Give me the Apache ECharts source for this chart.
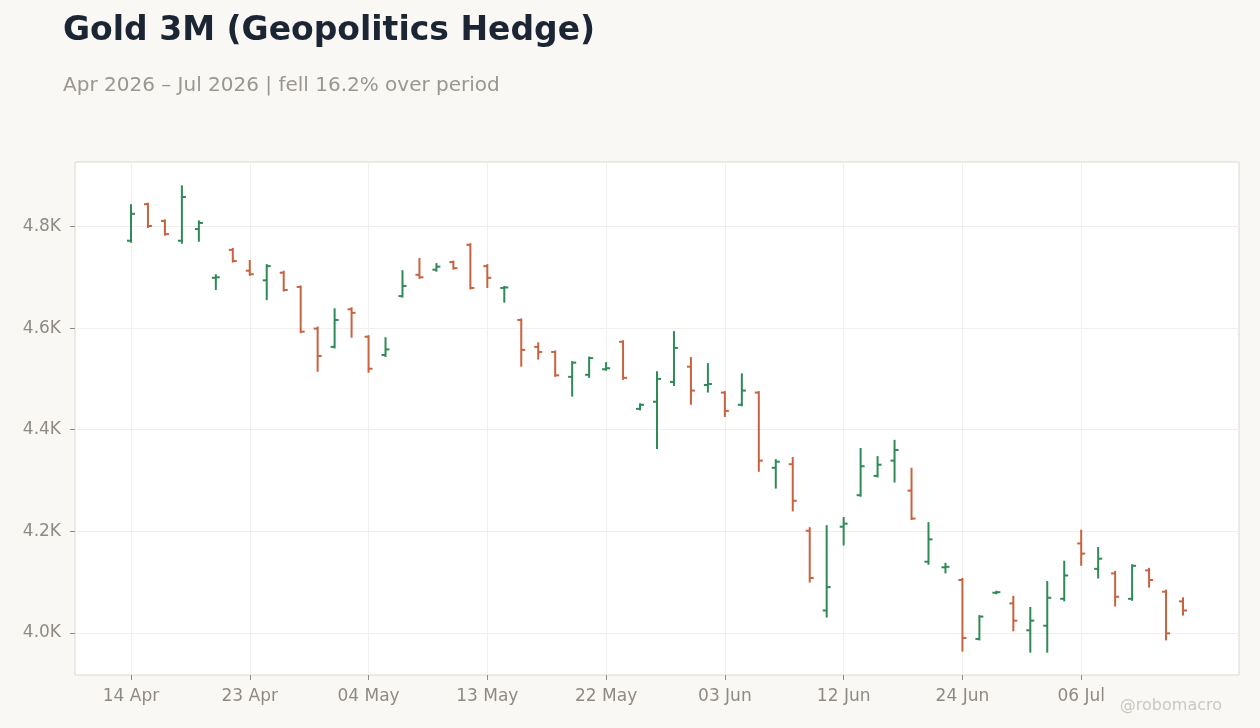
<!DOCTYPE html>
<html>
<head>
<meta charset="utf-8">
<title>Gold 3M (Geopolitics Hedge)</title>
<script src="https://cdn.jsdelivr.net/npm/echarts@6/dist/echarts.min.js"></script>
<style>
  html, body { margin: 0; padding: 0; background: #f9f8f5; }
  #chart { width: 1260px; height: 728px; }
</style>
</head>
<body>
<div id="chart"></div>
<script>
const dates = [
    '2026-04-14', '2026-04-15', '2026-04-16', '2026-04-17', '2026-04-20', '2026-04-21', '2026-04-22',
    '2026-04-23', '2026-04-24', '2026-04-27', '2026-04-28', '2026-04-29', '2026-04-30', '2026-05-01',
    '2026-05-04', '2026-05-05', '2026-05-06', '2026-05-07', '2026-05-08', '2026-05-11', '2026-05-12',
    '2026-05-13', '2026-05-14', '2026-05-15', '2026-05-18', '2026-05-19', '2026-05-20', '2026-05-21',
    '2026-05-22', '2026-05-26', '2026-05-27', '2026-05-28', '2026-05-29', '2026-06-01', '2026-06-02',
    '2026-06-03', '2026-06-04', '2026-06-05', '2026-06-08', '2026-06-09', '2026-06-10', '2026-06-11',
    '2026-06-12', '2026-06-15', '2026-06-16', '2026-06-17', '2026-06-18', '2026-06-22', '2026-06-23',
    '2026-06-24', '2026-06-25', '2026-06-26', '2026-06-29', '2026-06-30', '2026-07-01', '2026-07-02',
    '2026-07-06', '2026-07-07', '2026-07-08', '2026-07-09', '2026-07-10', '2026-07-13', '2026-07-14'
];

const opens = [
    4772, 4844, 4811, 4772, 4795, 4699, 4754, 4713, 4694, 4709, 4681, 4599, 4563, 4637, 4583, 4547,
    4663, 4705, 4715, 4730, 4764, 4722, 4679, 4616, 4563, 4553, 4504, 4508, 4519, 4573, 4441, 4455,
    4494, 4524, 4488, 4473, 4449, 4473, 4325, 4332, 4201, 4044, 4209, 4271, 4309, 4339, 4280, 4140,
    4129, 4104, 3988, 4079, 4058, 4005, 4014, 4067, 4176, 4126, 4117, 4067, 4123, 4081, 4062
];
const highs = [
    4842, 4845, 4812, 4879, 4810, 4704, 4756, 4732, 4724, 4711, 4682, 4601, 4637, 4639, 4584, 4580,
    4712, 4736, 4726, 4731, 4765, 4724, 4681, 4617, 4570, 4554, 4533, 4542, 4531, 4574, 4450, 4513,
    4592, 4541, 4529, 4474, 4509, 4474, 4340, 4344, 4206, 4210, 4226, 4362, 4346, 4378, 4323, 4216,
    4136, 4106, 4033, 4081, 4071, 4049, 4100, 4140, 4201, 4167, 4120, 4133, 4126, 4083, 4068
];
const lows = [
    4770, 4799, 4784, 4768, 4772, 4677, 4731, 4705, 4657, 4674, 4592, 4516, 4562, 4583, 4514, 4545,
    4662, 4699, 4713, 4717, 4678, 4681, 4652, 4526, 4540, 4506, 4467, 4504, 4518, 4500, 4440, 4364,
    4488, 4451, 4475, 4427, 4448, 4319, 4286, 4241, 4101, 4032, 4174, 4270, 4308, 4298, 4224, 4136,
    4119, 3965, 3987, 4078, 4005, 3963, 3963, 4064, 4134, 4109, 4054, 4065, 4091, 3987, 4036
];
const closes = [
    4825, 4801, 4785, 4858, 4807, 4700, 4732, 4706, 4722, 4675, 4593, 4545, 4616, 4630, 4520, 4558,
    4683, 4700, 4721, 4718, 4679, 4699, 4680, 4557, 4553, 4507, 4532, 4541, 4521, 4502, 4449, 4500,
    4561, 4477, 4490, 4437, 4477, 4339, 4337, 4260, 4108, 4090, 4215, 4328, 4331, 4360, 4225, 4184,
    4130, 3990, 4032, 4080, 4024, 4024, 4069, 4113, 4156, 4146, 4071, 4132, 4104, 3999, 4044
];

const xTickIndex = [0, 7, 14, 21, 28, 35, 42, 49, 56];
const yTicks = [4000, 4200, 4400, 4600, 4800];

const UP = '#2e8a56';
const DOWN = '#c9623f';
const MONTHS = ['Jan', 'Feb', 'Mar', 'Apr', 'May', 'Jun', 'Jul', 'Aug', 'Sep', 'Oct', 'Nov', 'Dec'];
const FONT = '"DejaVu Sans", sans-serif';

function dayLabel(i) {
    const d = dates[i];
    if (!d) return '';
    const parts = d.split('-');
    return parts[2] + ' ' + MONTHS[Number(parts[1]) - 1];
}

const ohlc = dates.map((d, i) => [i, opens[i], closes[i], lows[i], highs[i]]);

function renderBar(params, api) {
    const x = api.value(0);
    const o = api.coord([x, api.value(1)]);
    const c = api.coord([x, api.value(2)]);
    const l = api.coord([x, api.value(3)]);
    const h = api.coord([x, api.value(4)]);
    const color = api.value(2) >= api.value(1) ? UP : DOWN;
    const tick = 4;
    const style = { stroke: color, lineWidth: 2 };
    return {
        type: 'group',
        children: [
            { type: 'line', shape: { x1: h[0], y1: h[1] - 1, x2: l[0], y2: l[1] + 1 }, style: style },
            { type: 'line', shape: { x1: o[0] - tick, y1: o[1], x2: o[0], y2: o[1] }, style: style },
            { type: 'line', shape: { x1: c[0], y1: c[1], x2: c[0] + tick, y2: c[1] }, style: style }
        ]
    };
}

const chart = echarts.init(document.getElementById('chart'));
chart.setOption({
    backgroundColor: '#f9f8f5',
    animation: false,
    title: [
        {
            text: 'Gold 3M (Geopolitics Hedge)',
            left: 63, top: 15, padding: 0,
            textStyle: { fontFamily: FONT, fontSize: 33, fontWeight: 'bold', color: '#1c2533' }
        },
        {
            text: 'Apr 2026 – Jul 2026 | fell 16.2% over period',
            left: 63, top: 76, padding: 0,
            textStyle: { fontFamily: FONT, fontSize: 20, fontWeight: 'normal', color: '#9a9691' }
        }
    ],
    graphic: [
        {
            type: 'text', right: 38, top: 698,
            style: { text: '@robomacro', font: '16px "DejaVu Sans", sans-serif', fill: '#cbc7c2' }
        }
    ],
    grid: {
        left: 75, right: 21, top: 162, bottom: 53,
        show: true, backgroundColor: '#ffffff', borderColor: '#dcd8d2', borderWidth: 1
    },
    xAxis: {
        type: 'value',
        min: -3.3, max: 65.3,
        axisLine: { show: false, onZero: false },
        axisTick: { show: true, length: 5, customValues: xTickIndex, lineStyle: { color: '#8f8a84' } },
        axisLabel: {
            customValues: xTickIndex,
            formatter: v => dayLabel(v),
            fontFamily: FONT, fontSize: 17, color: '#8f8a84', margin: 13
        },
        splitLine: { show: true, lineStyle: { color: '#f0efed', width: 1 } }
    },
    yAxis: {
        type: 'value',
        min: 3917, max: 4927,
        axisLine: { show: false, onZero: false },
        axisTick: { show: true, length: 5, customValues: yTicks, lineStyle: { color: '#8f8a84' } },
        axisLabel: {
            customValues: yTicks,
            formatter: v => (v / 1000).toFixed(1) + 'K',
            fontFamily: FONT, fontSize: 17, color: '#8f8a84', margin: 14
        },
        splitLine: { show: true, lineStyle: { color: '#f0efed', width: 1 } }
    },
    series: [
        {
            type: 'custom',
            renderItem: renderBar,
            encode: { x: 0, y: [1, 2, 3, 4] },
            data: ohlc,
            clip: true
        }
    ]
});
window.addEventListener('resize', chart.resize);
</script>
</body>
</html>
